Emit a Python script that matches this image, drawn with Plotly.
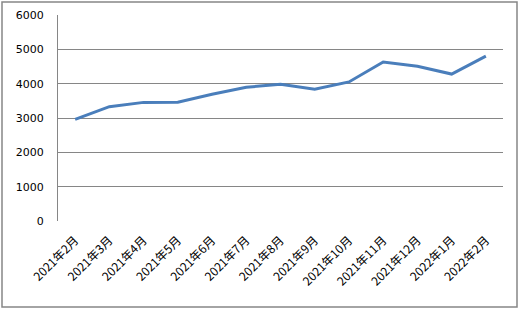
import plotly.graph_objects as go

categories = ["2021年2月", "2021年3月", "2021年4月", "2021年5月", "2021年6月", "2021年7月",
              "2021年8月", "2021年9月", "2021年10月", "2021年11月", "2021年12月",
              "2022年1月", "2022年2月"]
values = [2960, 3330, 3455, 3460, 3690, 3895, 3980, 3840, 4050, 4630, 4505, 4280, 4800]
y_ticks = [0, 1000, 2000, 3000, 4000, 5000, 6000]

fig = go.Figure()
fig.add_trace(go.Scatter(x=categories, y=values, mode="lines",
                         line=dict(color="#4A7EBB", width=3)))

fig.update_layout(
    width=520, height=310,
    margin=dict(l=58, r=17, t=15, b=89),
    paper_bgcolor="white", plot_bgcolor="white",
    showlegend=False,
    shapes=[dict(type="rect", xref="paper", yref="paper",
                 x0=-56 / 445, x1=1 + 14 / 445, y0=-86 / 206, y1=1 + 13 / 206,
                 line=dict(color="#868686", width=1.5), fillcolor="rgba(0,0,0,0)", layer="below")],
)
fig.update_xaxes(type="category", range=[-0.5, len(categories) - 0.5],
                 showgrid=False, showline=False, zeroline=False, automargin=False,
                 tickangle=-45, ticks="", ticklabelstandoff=9,
                 tickfont=dict(family="Noto Sans CJK SC", size=12, color="#000000"))
fig.update_yaxes(range=[0, 6000], tickvals=y_ticks, showgrid=True, gridcolor="#868686",
                 gridwidth=1, zeroline=False, showline=True, linecolor="#868686", linewidth=1,
                 ticks="", ticklabelstandoff=11, automargin=False,
                 tickfont=dict(family="DejaVu Sans", size=11, color="#000000"))

fig.write_html("out.html")
